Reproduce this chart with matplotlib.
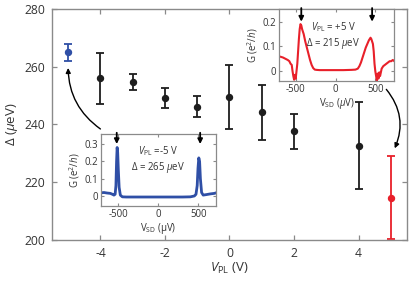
import matplotlib
matplotlib.use("Agg")
import matplotlib.pyplot as plt
import numpy as np

plt.rcParams['font.family'] = ['Open Sans', 'DejaVu Sans']
plt.rcParams['mathtext.fontset'] = 'custom'
plt.rcParams['mathtext.rm'] = 'Open Sans'
plt.rcParams['mathtext.it'] = 'Open Sans:italic'
plt.rcParams['mathtext.bf'] = 'Open Sans:bold'
plt.rcParams['axes.unicode_minus'] = False

# Main data
v_pl = [-4, -3, -2, -1, 0, 1, 2, 4]
gap = [255.9, 254.6, 249.1, 246.1, 249.4, 244.2, 237.6, 232.6]
gap_err = [8.9, 2.7, 3.6, 3.6, 11.1, 9.5, 6.1, 15.0]
v_blue = [-5]
gap_blue = [264.9]
err_blue = [3.0]
v_red = [5]
gap_red = [214.7]
err_red = [14.5]

# Inset blue (V_PL = -5 V)
vsd_blue = [-720, -680, -640, -600, -575, -555, -540, -530, -522, -515, -508, -500, -490,
            -475, -450, -400, -300, -200, -100, 0, 100, 200, 300, 400, 450, 470, 485, 495,
            505, 515, 525, 540, 560, 600, 650, 700, 720]
g_blue = [0.018, 0.02, 0.017, 0.015, 0.01, 0.005, 0.01, 0.06, 0.2, 0.28, 0.25, 0.15, 0.05,
          0.005, -0.005, -0.006, -0.006, -0.006, -0.006, -0.006, -0.006, -0.006, -0.006,
          -0.005, 0.0, 0.01, 0.06, 0.16, 0.22, 0.2, 0.1, 0.02, 0.005, 0.008, 0.012, 0.015, 0.018]

# Inset red (V_PL = +5 V)
vsd_red = [-720, -690, -660, -630, -600, -580, -565, -550, -540, -530, -520, -510, -500, -490,
           -480, -470, -460, -450, -440, -430, -420, -410, -400, -380, -360, -340, -320, -300,
           -280, -260, -240, -200, -100, 0, 100, 200, 250, 280, 300, 320, 340, 360, 380, 400,
           420, 440, 450, 460, 470, 480, 490, 500, 510, 520, 530, 540, 550, 560, 580, 600, 620,
           640, 660, 680, 700, 720, 740]
g_red = [0.06, 0.058, 0.055, 0.05, 0.045, 0.04, 0.03, 0.025, 0.0, -0.02, -0.035, -0.015, -0.03,
         0.0, 0.03, 0.08, 0.13, 0.17, 0.19, 0.185, 0.17, 0.16, 0.15, 0.12, 0.095, 0.07, 0.045,
         0.025, 0.012, 0.006, 0.005, 0.004, 0.004, 0.004, 0.004, 0.005, 0.006, 0.01, 0.02, 0.035,
         0.055, 0.075, 0.095, 0.11, 0.125, 0.135, 0.13, 0.12, 0.11, 0.08, 0.03, 0.0, -0.02, -0.04,
         -0.01, -0.03, -0.005, -0.02, 0.01, 0.02, 0.025, 0.03, 0.035, 0.04, 0.04, 0.045, 0.04]

peaks_blue = [-520, 522]
peaks_red = [-430, 460]

BLUE = '#2f4fa6'
RED = '#e8202a'
DARK = '#1e1e1e'
SPINE = '#8a8a8a'
TXT = '#333333'
FS_IN = 6.9

fig = plt.figure(figsize=(4.15, 2.84), dpi=100)
ax = fig.add_axes([0.1253, 0.1549, 0.8554, 0.8145])

ekw = dict(fmt='o', ms=4.3, capsize=2.7, elinewidth=1.3, capthick=1.3)
ax.errorbar(v_pl, gap, yerr=gap_err, color=DARK, **ekw)
ax.errorbar(v_blue, gap_blue, yerr=err_blue, color=BLUE, **ekw)
ax.errorbar(v_red, gap_red, yerr=err_red, color=RED, **ekw)

ax.set_xlim(-5.5, 5.5)
ax.set_ylim(200, 280)
ax.set_xticks([-4, -2, 0, 2, 4])
ax.set_yticks([200, 220, 240, 260, 280])
for s in ax.spines.values():
    s.set_color(SPINE)
    s.set_linewidth(1.0)
ax.tick_params(direction='in', length=3.5, width=0.9, color=SPINE, labelcolor=TXT,
               labelsize=8.7, top=True, right=True, pad=5)
ax.set_xlabel(r'$V_{\rm PL}$ (V)', fontsize=9.5, color=TXT, labelpad=1)
ax.set_ylabel(r'$\Delta$ ($\mu$eV)', fontsize=9.5, color=TXT, labelpad=3)

# curved arrows
ax.annotate('', xy=(-5.0, 259.5), xytext=(-4.0, 238.4),
            arrowprops=dict(arrowstyle='-|>', color='black', lw=1.0,
                            connectionstyle='arc3,rad=-0.25', mutation_scale=7,
                            shrinkA=0, shrinkB=0))
ax.annotate('', xy=(5.12, 231.7), xytext=(4.86, 252.1),
            arrowprops=dict(arrowstyle='-|>', color='black', lw=1.0,
                            connectionstyle='arc3,rad=-0.3', mutation_scale=7,
                            shrinkA=0, shrinkB=0))


def style_inset(a):
    for s in a.spines.values():
        s.set_color(SPINE)
        s.set_linewidth(0.9)
    a.tick_params(direction='in', length=2.5, width=0.8, color=SPINE, labelcolor=TXT,
                  labelsize=FS_IN, top=True, right=True, pad=2)
    a.set_facecolor('white')


# Blue inset
axb = fig.add_axes([0.2427, 0.2746, 0.2778, 0.2536])
axb.plot(vsd_blue, g_blue, color=BLUE, lw=2.0)
axb.set_xlim(-720, 720)
axb.set_ylim(-0.058, 0.358)
axb.set_xticks([-500, 0, 500])
axb.set_yticks([0, 0.1, 0.2, 0.3])
axb.set_yticklabels(['0', '0.1', '0.2', '0.3'])
style_inset(axb)
axb.set_xlabel(r'V$_{\rm SD}$ (µV)', fontsize=FS_IN, color=TXT, labelpad=1)
axb.set_ylabel(r'G (e$^2$/$h$)', fontsize=FS_IN, color=TXT, labelpad=2)
axb.text(0.5, 0.76, r'$V_{\rm PL}$ =-5 V', transform=axb.transAxes, ha='center', va='center',
         fontsize=FS_IN, color=TXT)
axb.text(0.5, 0.53, r'$\Delta$ = 265 $\mu$eV', transform=axb.transAxes, ha='center',
         va='center', fontsize=FS_IN, color=TXT)
for p in peaks_blue:
    axb.annotate('', xy=(p, 0.30), xytext=(p, 0.365),
                 arrowprops=dict(arrowstyle='-|>', color='black', lw=1.3, mutation_scale=7,
                                 shrinkA=0, shrinkB=0), annotation_clip=False)

# Red inset
axr = fig.add_axes([0.6723, 0.7148, 0.2771, 0.2525])
axr.plot(vsd_red, g_red, color=RED, lw=1.5)
axr.set_xlim(-710, 735)
axr.set_ylim(-0.04, 0.25)
axr.set_xticks([-500, 0, 500])
axr.set_yticks([0, 0.1, 0.2])
axr.set_yticklabels(['0', '0.1', '0.2'])
style_inset(axr)
axr.set_xlabel(r'V$_{\rm SD}$ ($\mu$V)', fontsize=FS_IN, color=TXT, labelpad=1)
axr.set_ylabel(r'G (e$^2$/$h$)', fontsize=FS_IN, color=TXT, labelpad=2)
axr.text(0.47, 0.745, r'$V_{\rm PL}$ = +5 V', transform=axr.transAxes, ha='center',
         va='center', fontsize=FS_IN, color=TXT)
axr.text(0.47, 0.525, r'$\Delta$ = 215 $\mu$eV', transform=axr.transAxes, ha='center',
         va='center', fontsize=FS_IN, color=TXT)
for p in peaks_red:
    axr.annotate('', xy=(p, 0.20), xytext=(p, 0.255),
                 arrowprops=dict(arrowstyle='-|>', color='black', lw=1.3, mutation_scale=7,
                                 shrinkA=0, shrinkB=0), annotation_clip=False)

fig.savefig('out.png', dpi=100)
